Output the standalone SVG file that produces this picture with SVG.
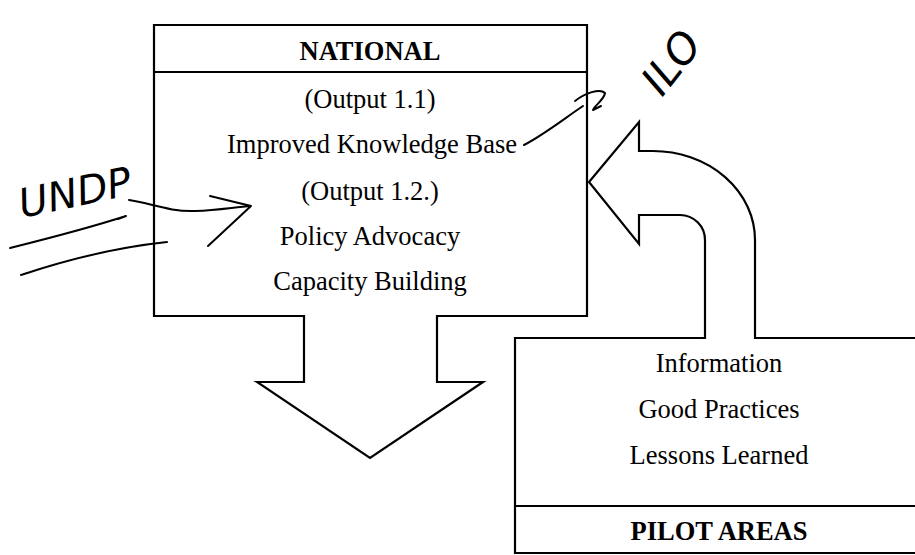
<svg xmlns="http://www.w3.org/2000/svg" width="915" height="555" viewBox="0 0 915 555">
<style>
.shape{fill:#fff;stroke:#000;stroke-width:2.2;stroke-linejoin:miter}
.line{fill:none;stroke:#000;stroke-width:2.2}
.t{font-family:"Liberation Serif","Times New Roman",serif;font-size:26.5px;fill:#000;text-anchor:middle}
.b{font-weight:bold}
.hand{fill:none;stroke:#000;stroke-width:2;stroke-linecap:round;stroke-linejoin:round}
.ht{font-family:"DejaVu Sans",sans-serif;font-style:italic;font-weight:200;fill:#000}
</style>
<rect width="915" height="555" fill="#fff"/>
<g id="national">
<path class="shape" d="M154,25 H587 V316 H437 V382 H483 L370,458 L257,382 H304 V316 H154 Z"/>
<line class="line" x1="154" y1="72" x2="587" y2="72"/>
<text class="t b" x="370" y="60">NATIONAL</text>
<text class="t" x="370" y="108">(Output 1.1)</text>
<text class="t" x="372" y="153">Improved Knowledge Base</text>
<text class="t" x="370" y="200">(Output 1.2.)</text>
<text class="t" x="370" y="245">Policy Advocacy</text>
<text class="t" x="370" y="290">Capacity Building</text>
</g>
<g id="pilot">
<path class="shape" d="M920,338 H515 V553 H920"/>
<line class="line" x1="515" y1="506" x2="920" y2="506"/>
<text class="t" x="719" y="372">Information</text>
<text class="t" x="719" y="418">Good Practices</text>
<text class="t" x="719" y="464">Lessons Learned</text>
<text class="t b" x="719" y="540">PILOT AREAS</text>
</g>
<g id="connectors">
<path class="shape" d="M705,339 V240 A25,25 0 0 0 680,215 H639 V244 L589,182 L639,122 V151 H653 A102,89 0 0 1 755,240 V339"/>
</g>
<g id="annotations">
<text class="ht" x="22" y="218" font-size="40" transform="rotate(-12 22 218)">UNDP</text>
<path class="hand" d="M129,200 C150,203 170,212 195,211 C220,210 235,207 251,206 M210,196 L251,206 L208,246"/>
<path class="hand" d="M10,248 C50,238 95,226 126,216 L118,219"/>
<path class="hand" d="M21,275 C60,262 110,248 167,242"/>
<text class="ht" x="662" y="98" font-size="42" transform="rotate(-52 662 98)">ILO</text>
<path class="hand" d="M524,145 C545,134 565,118 583,106 M575,101 C585,93 600,88 605,93 C604,100 594,106 593,110 L601,106"/>
</g>
</svg>
